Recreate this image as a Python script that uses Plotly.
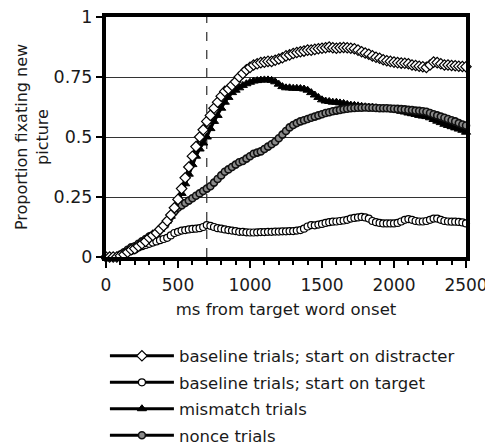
import plotly.graph_objects as go

# time axis (ms from target word onset), 25 ms bins
time_ms = [i * 25 for i in range(101)]

distracter = [
    0, 0, 0, 0, 0.005, 0.01, 0.02, 0.03, 0.035, 0.045,
    0.055, 0.065, 0.08, 0.09, 0.10, 0.115, 0.13, 0.15, 0.175, 0.205,
    0.24, 0.285, 0.33, 0.375, 0.42, 0.46, 0.50, 0.53, 0.565, 0.59,
    0.62, 0.645, 0.67, 0.69, 0.70, 0.715, 0.73, 0.75, 0.765, 0.78,
    0.79, 0.80, 0.805, 0.81, 0.812, 0.815, 0.815, 0.82, 0.825, 0.83,
    0.838, 0.842, 0.848, 0.852, 0.855, 0.858, 0.862, 0.862, 0.865, 0.868,
    0.87, 0.872, 0.875, 0.872, 0.87, 0.872, 0.873, 0.872, 0.87, 0.868,
    0.862, 0.855, 0.85, 0.845, 0.838, 0.832, 0.828, 0.822, 0.818, 0.815,
    0.812, 0.81, 0.808, 0.807, 0.805, 0.80, 0.798, 0.795, 0.793, 0.79,
    0.80, 0.812, 0.81, 0.805, 0.80, 0.80, 0.798, 0.797, 0.795, 0.794,
    0.793,
]

target = [
    0, 0, 0, 0, 0.005, 0.01, 0.02, 0.025, 0.03, 0.04,
    0.045, 0.05, 0.055, 0.06, 0.065, 0.07, 0.075, 0.08, 0.09, 0.10,
    0.105, 0.11, 0.112, 0.115, 0.117, 0.118, 0.12, 0.125, 0.133, 0.13,
    0.125, 0.12, 0.118, 0.115, 0.112, 0.11, 0.108, 0.105, 0.105, 0.103,
    0.102, 0.102, 0.103, 0.104, 0.104, 0.105, 0.105, 0.106, 0.106, 0.107,
    0.107, 0.108, 0.108, 0.11, 0.112, 0.118, 0.127, 0.133, 0.132, 0.135,
    0.138, 0.142, 0.145, 0.147, 0.148, 0.15, 0.152, 0.155, 0.16, 0.163,
    0.165, 0.167, 0.165, 0.16, 0.15, 0.145, 0.142, 0.14, 0.14, 0.14,
    0.14, 0.142, 0.148, 0.155, 0.158, 0.155, 0.15, 0.148, 0.148, 0.15,
    0.155, 0.16, 0.16, 0.155, 0.15, 0.148, 0.147, 0.147, 0.146, 0.144,
    0.14,
]

mismatch = [
    0, 0, 0, 0, 0.005, 0.012, 0.02, 0.028, 0.035, 0.045,
    0.055, 0.065, 0.075, 0.09, 0.10, 0.115, 0.13, 0.15, 0.17, 0.195,
    0.225, 0.265, 0.305, 0.345, 0.385, 0.42, 0.45, 0.475, 0.50, 0.535,
    0.565, 0.59, 0.62, 0.645, 0.665, 0.685, 0.695, 0.705, 0.715, 0.722,
    0.728, 0.733, 0.735, 0.737, 0.738, 0.738, 0.736, 0.73, 0.72, 0.71,
    0.705, 0.705, 0.703, 0.703, 0.702, 0.70, 0.695, 0.685, 0.675, 0.665,
    0.655, 0.65, 0.648, 0.645, 0.645, 0.642, 0.64, 0.636, 0.633, 0.632,
    0.63, 0.628, 0.626, 0.625, 0.624, 0.622, 0.62, 0.618, 0.616, 0.615,
    0.613, 0.61, 0.607, 0.604, 0.60, 0.597, 0.594, 0.59, 0.587, 0.585,
    0.58, 0.573, 0.566, 0.56, 0.553, 0.548, 0.543, 0.538, 0.533, 0.528,
    0.52,
]

nonce = [
    0, 0, 0, 0, 0.01, 0.02, 0.03, 0.04, 0.045, 0.055,
    0.065, 0.075, 0.085, 0.09, 0.10, 0.115, 0.13, 0.15, 0.17, 0.19,
    0.205, 0.215, 0.225, 0.235, 0.245, 0.255, 0.265, 0.275, 0.285, 0.295,
    0.31, 0.325, 0.34, 0.355, 0.365, 0.375, 0.385, 0.395, 0.40, 0.41,
    0.42, 0.43, 0.435, 0.44, 0.45, 0.46, 0.47, 0.48, 0.495, 0.51,
    0.525, 0.54, 0.55, 0.558, 0.565, 0.57, 0.575, 0.58, 0.585, 0.59,
    0.595, 0.60, 0.603, 0.607, 0.61, 0.613, 0.616, 0.618, 0.62, 0.621,
    0.622, 0.622, 0.623, 0.622, 0.622, 0.621, 0.62, 0.62, 0.62, 0.619,
    0.618, 0.617, 0.616, 0.615, 0.613, 0.612, 0.61, 0.609, 0.607, 0.605,
    0.60, 0.595, 0.59, 0.585, 0.58, 0.575, 0.57, 0.565, 0.558, 0.552,
    0.548,
]

series_names = [
    "baseline trials; start on distracter",
    "baseline trials; start on target",
    "mismatch trials",
    "nonce trials",
]

y_tick_vals = [0, 0.25, 0.5, 0.75, 1]
y_tick_text = ["0", "0.25", "0.5", "0.75", "1"]
x_tick_vals = [0, 500, 1000, 1500, 2000, 2500]
x_tick_text = ["0", "500", "1000", "1500", "2000", "2500"]
onset_marker_ms = 700

FONT = "DejaVu Sans"
INK = "#1a1a1a"

fig = go.Figure()

# draw order: mismatch, nonce, target, distracter (legend order set by legendrank)
fig.add_trace(go.Scatter(
    x=time_ms, y=mismatch, name=series_names[2], mode="lines+markers",
    line=dict(color="black", width=3),
    marker=dict(symbol="triangle-up", size=8, color="black",
                line=dict(color="black", width=1)),
    legendrank=3, legendgroup="c", cliponaxis=False,
))
fig.add_trace(go.Scatter(
    x=time_ms, y=nonce, name=series_names[3], mode="lines+markers",
    line=dict(color="black", width=3),
    marker=dict(symbol="circle", size=7, color="#8a8a8a",
                line=dict(color="#111111", width=1.6)),
    legendrank=4, legendgroup="d", cliponaxis=False,
))
fig.add_trace(go.Scatter(
    x=time_ms, y=target, name=series_names[1], mode="lines+markers",
    line=dict(color="black", width=3),
    marker=dict(symbol="circle", size=7, color="white",
                line=dict(color="black", width=1.2)),
    legendrank=2, legendgroup="b", cliponaxis=False,
))
fig.add_trace(go.Scatter(
    x=time_ms, y=distracter, name=series_names[0], mode="lines+markers",
    line=dict(color="black", width=3),
    marker=dict(symbol="diamond", size=8, color="white",
                line=dict(color="black", width=1.2)),
    legendrank=1, legendgroup="a", cliponaxis=False,
))

fig.add_shape(type="line", xref="x", yref="paper",
              x0=onset_marker_ms, x1=onset_marker_ms, y0=0, y1=1,
              line=dict(color="black", width=1, dash="dash"), layer="below")

# the page body adds an 8px offset, so the figure is 8px smaller and shifted
fig.update_layout(
    width=485, height=437, autosize=False,
    margin=dict(l=98, r=27, t=9, b=188, autoexpand=False),
    paper_bgcolor="white", plot_bgcolor="white",
    font=dict(family=FONT, color=INK, size=16),
    showlegend=True,
    legend=dict(
        x=-0.003, y=-0.34, xanchor="left", yanchor="top",
        font=dict(family=FONT, size=16.5, color=INK),
        traceorder="grouped", tracegroupgap=2, itemwidth=64,
        bgcolor="rgba(0,0,0,0)",
    ),
    xaxis=dict(
        range=[0, 2500], tickvals=x_tick_vals, ticktext=x_tick_text,
        showline=True, linecolor="black", linewidth=4, mirror=True,
        ticks="outside", ticklen=7, tickwidth=2, tickcolor="black",
        minor=dict(dtick=100, ticks="outside", ticklen=4, tickwidth=2,
                   tickcolor="black", showgrid=False),
        showgrid=False, zeroline=False, ticklabelstandoff=3,
        ticklabeloverflow="allow",
        tickfont=dict(family=FONT, size=17, color=INK),
        title=dict(text="ms from target word onset",
                   font=dict(family=FONT, size=16.5, color=INK), standoff=10),
    ),
    yaxis=dict(
        range=[0, 1], tickvals=y_tick_vals, ticktext=y_tick_text,
        showline=True, linecolor="black", linewidth=4, mirror=True,
        ticks="outside", ticklen=6, tickwidth=2, tickcolor="black",
        showgrid=True, gridcolor="#333333", gridwidth=1, zeroline=False,
        ticklabelstandoff=0, ticklabeloverflow="allow",
        tickfont=dict(family=FONT, size=17.5, color=INK),
        title=dict(text="Proportion fixating new<br>picture",
                   font=dict(family=FONT, size=16, color=INK), standoff=2),
    ),
)

fig.write_html("out.html")
